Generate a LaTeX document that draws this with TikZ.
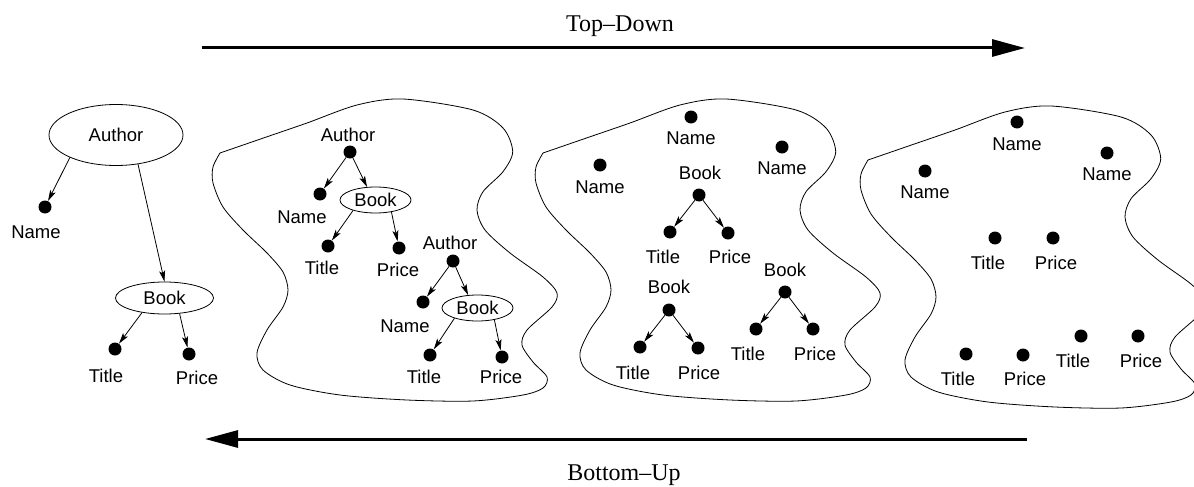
\documentclass[tikz,border=0pt]{standalone}
\usepackage{fontspec}
\setmainfont{Liberation Serif}
\newfontfamily\lblfont{Liberation Sans}
\usetikzlibrary{shapes.geometric,arrows.meta}

\begin{document}
\begin{tikzpicture}[x=1pt,y=-1pt,
  dot/.style={circle,fill=black,inner sep=0pt,minimum size=13pt},
  lbl/.style={inner sep=0pt,font=\lblfont\fontsize{18.5}{20}\selectfont,text height=13.3pt,text depth=0pt},
  ell/.style={ellipse,draw,line width=0.8pt,inner sep=0pt,font=\lblfont\fontsize{18.5}{20}\selectfont,text height=13.3pt,text depth=0pt},
  arr/.style={line width=0.8pt,-{Stealth[length=11pt,width=6pt,inset=2.5pt]}},
  flow/.style={line width=3pt,-{Triangle[length=33pt,width=17pt]}},
  blob/.style={line width=0.8pt},
  title/.style={inner sep=0pt,font=\fontsize{24}{26}\selectfont,anchor=base}]

\useasboundingbox (0,0) rectangle (1194,487);
\clip (0,0) rectangle (1194,487);

% direction arrows
\coordinate (tdS) at (202,48);
\coordinate (tdE) at (1025,48);
\coordinate (buS) at (1027,439);
\coordinate (buE) at (205,439);
\draw[flow] (tdS) -- (tdE);
\draw[flow] (buS) -- (buE);
\node[title] (tdL) at (620,32) {Top--Down};
\node[title] (buL) at (624,480.7) {Bottom--Up};

% outline of a set of fragments
\def\blobpts{(220,153) (262,138.5) (307,123) (357,105) (403,99) (473,110) (503,128)
  (512.7,151.7) (503,171.7) (483,191.7) (477,210) (485,230) (510,253) (543,277)
  (557,293) (552,307) (527,330) (522,345) (533,362) (547,377) (543,388) (523,395)
  (473,401) (407,400) (340,395) (290,385) (263,370) (257,353) (267,330) (283,307)
  (288,290) (283,272) (267,253) (243,230) (223,207) (213,183) (213,167) (220,153)}
\draw[blob] plot[smooth,tension=0.5] coordinates {\blobpts};
\begin{scope}[shift={(323,0)}]
  \draw[blob] plot[smooth,tension=0.5] coordinates {\blobpts};
\end{scope}
\begin{scope}[shift={(648,7)}]
  \draw[blob] plot[smooth,tension=0.5] coordinates {\blobpts};
\end{scope}

% schema tree
\node[ell,minimum width=134pt,minimum height=61pt] (A1) at (116,135) {Author};
\node[dot] (N1) at (45,207) {};
\node[lbl] (N1l) at (36,232) {Name};
\node[ell,minimum width=98pt,minimum height=32pt] (B1) at (164.5,298) {Book};
\node[dot] (T1) at (115,349) {};
\node[lbl] (T1l) at (106,376) {Title};
\node[dot] (P1) at (189,354) {};
\node[lbl] (P1l) at (197,378) {Price};
\draw[arr] (A1.206) -- (N1);
\draw[arr] (A1.307) -- (B1.north);
\draw[arr] (B1.213) -- (T1);
\draw[arr] (B1.314) -- (P1);

% first set: two Author fragments
\node[lbl] (A2l) at (348,135) {Author};
\node[dot] (A2) at (350,152) {};
\node[dot] (N2) at (320,194) {};
\node[lbl] (N2l) at (302,217) {Name};
\node[ell,minimum width=71pt,minimum height=26pt] (B2) at (375.5,200) {Book};
\node[dot] (T2) at (328,246) {};
\node[lbl] (T2l) at (322,268) {Title};
\node[dot] (P2) at (399,248) {};
\node[lbl] (P2l) at (398,270) {Price};
\draw[arr] (A2) -- (N2);
\draw[arr] (A2) -- (B2.123);
\draw[arr] (B2.205) -- (T2);
\draw[arr] (B2.323) -- (P2);

\node[lbl] (A3l) at (450,243) {Author};
\node[dot] (A3) at (453,261) {};
\node[dot] (N3) at (423,302) {};
\node[lbl] (N3l) at (405,326) {Name};
\node[ell,minimum width=71pt,minimum height=26pt] (B3) at (477.5,308) {Book};
\node[dot] (T3) at (430,355) {};
\node[lbl] (T3l) at (424,377) {Title};
\node[dot] (P3) at (502,357) {};
\node[lbl] (P3l) at (501,377) {Price};
\draw[arr] (A3) -- (N3);
\draw[arr] (A3) -- (B3.126);
\draw[arr] (B3.204) -- (T3);
\draw[arr] (B3.325) -- (P3);

% second set: Names and Book fragments
\node[dot] (N4) at (691,117) {};
\node[lbl] (N4l) at (691,138) {Name};
\node[dot] (N5) at (782,147) {};
\node[lbl] (N5l) at (782,168) {Name};
\node[dot] (N6) at (600,165) {};
\node[lbl] (N6l) at (600,187) {Name};

\node[lbl] (B4l) at (700,173) {Book};
\node[dot] (B4) at (699,195) {};
\node[dot] (T4) at (670,232) {};
\node[lbl] (T4l) at (663,257) {Title};
\node[dot] (P4) at (728,233) {};
\node[lbl] (P4l) at (730,257) {Price};
\draw[arr] (B4) -- (T4);
\draw[arr] (B4) -- (P4);

\node[lbl] (B5l) at (669,287) {Book};
\node[dot] (B5) at (669,310) {};
\node[dot] (T5) at (640,347) {};
\node[lbl] (T5l) at (633,373) {Title};
\node[dot] (P5) at (698,348) {};
\node[lbl] (P5l) at (699,373) {Price};
\draw[arr] (B5) -- (T5);
\draw[arr] (B5) -- (P5);

\node[lbl] (B6l) at (785,270) {Book};
\node[dot] (B6) at (785,292) {};
\node[dot] (T6) at (756,329) {};
\node[lbl] (T6l) at (748,354) {Title};
\node[dot] (P6) at (813,329) {};
\node[lbl] (P6l) at (815,354) {Price};
\draw[arr] (B6) -- (T6);
\draw[arr] (B6) -- (P6);

% third set: single nodes only
\node[dot] (N7) at (1017,122) {};
\node[lbl] (N7l) at (1017,144) {Name};
\node[dot] (N8) at (1107,153) {};
\node[lbl] (N8l) at (1107,174) {Name};
\node[dot] (N9) at (925,171) {};
\node[lbl] (N9l) at (925,192) {Name};
\node[dot] (T7) at (995,238) {};
\node[lbl] (T7l) at (988,263) {Title};
\node[dot] (P7) at (1053,238) {};
\node[lbl] (P7l) at (1056,263) {Price};
\node[dot] (T8) at (966,354) {};
\node[lbl] (T8l) at (958,379) {Title};
\node[dot] (P8) at (1023,355) {};
\node[lbl] (P8l) at (1025,379) {Price};
\node[dot] (T9) at (1081,336) {};
\node[lbl] (T9l) at (1073,361) {Title};
\node[dot] (P9) at (1138,336) {};
\node[lbl] (P9l) at (1141,361) {Price};
\end{tikzpicture}
\end{document}
